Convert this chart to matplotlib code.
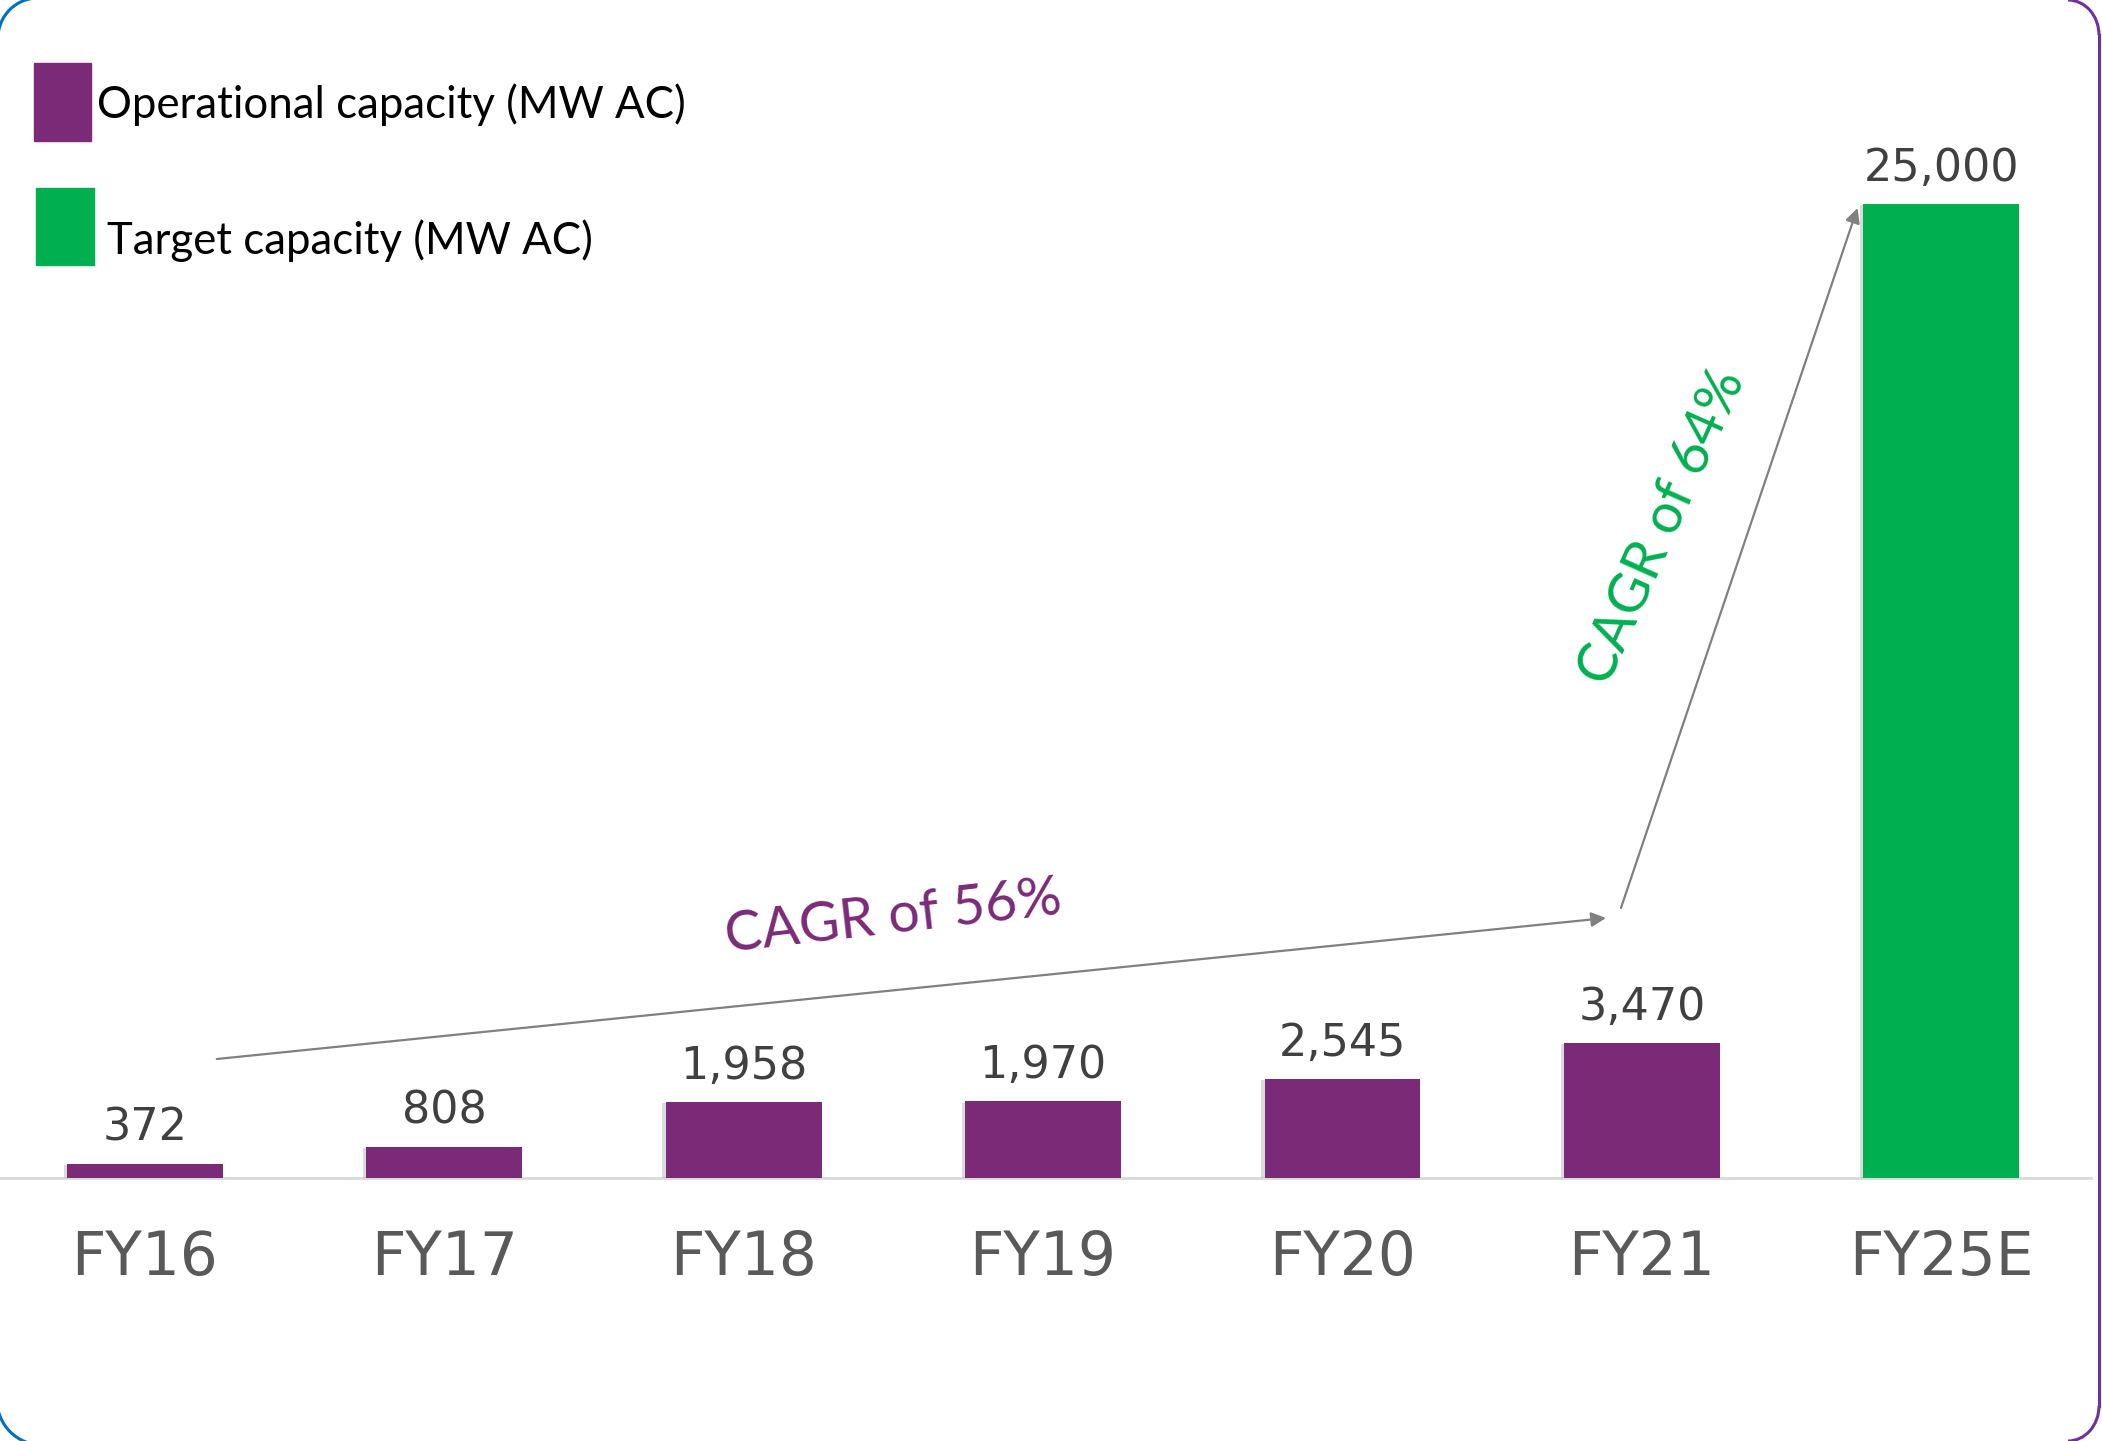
import matplotlib
matplotlib.use("Agg")
import matplotlib.pyplot as plt
import matplotlib.patheffects as pe
from matplotlib.patches import Rectangle, Arc

years = ["FY16", "FY17", "FY18", "FY19", "FY20", "FY21", "FY25E"]
capacity = [372, 808, 1958, 1970, 2545, 3470, 25000]
kind = ["op", "op", "op", "op", "op", "op", "target"]
legend_labels = ["Operational capacity (MW AC)", "Target capacity (MW AC)"]
cagr_labels = ["CAGR of 56%", "CAGR of 64%"]

purple = "#7b2a77"
green = "#00b050"
colors = [purple if k == "op" else green for k in kind]

W, H = 2102, 1441
fig = plt.figure(figsize=(W / 100, H / 100), dpi=100)

# decoration layer in pixel coords (border corners, legend)
deco = fig.add_axes([0, 0, 1, 1])
deco.set_xlim(0, W)
deco.set_ylim(H, 0)
deco.axis("off")

# right border (purple) with rounded corners
deco.plot([2099, 2099], [35, 1406], color="#7030a0", lw=2.2)
deco.add_patch(Arc((2068, 35), 62, 70, theta1=270, theta2=360, color="#7030a0", lw=2.2))
deco.add_patch(Arc((2068, 1406), 62, 70, theta1=0, theta2=90, color="#7030a0", lw=2.2))
# left blue corners (neighbouring box)
deco.add_patch(Arc((38, 38), 80, 80, theta1=180, theta2=270, color="#0070c0", lw=2.2))
deco.add_patch(Arc((42, 1400), 90, 90, theta1=90, theta2=180, color="#0070c0", lw=2.2))

# legend
deco.add_patch(Rectangle((34, 63), 57, 78, color=purple))
deco.add_patch(Rectangle((36, 188), 58, 77, color=green))
deco.text(97, 105, legend_labels[0], fontsize=31.5, family="Lato", va="center", ha="left", color="black")
deco.text(107, 241, legend_labels[1], fontsize=31.5, family="Lato", va="center", ha="left", color="black")

# main bar axes
ax = fig.add_axes([0, (H - 1178) / H, 2091 / W, 1178 / H])
ax.patch.set_alpha(0)
x = list(range(len(years)))
bars = ax.bar(x, capacity, width=0.52, color=colors, zorder=3)
for b in bars:
    b.set_path_effects([pe.SimplePatchShadow(offset=(-2.5, -1), shadow_rgbFace="0.6", alpha=0.35), pe.Normal()])

labels = [f"{v:,}" for v in capacity]
ax.bar_label(bars, labels=labels, padding=10, fontsize=32, color="#404040")

ax.set_xlim(-0.484, 6.5)
ax.set_ylim(0, 30236)
ax.set_xticks(x)
ax.set_xticklabels(years, fontsize=43, color="#595959")
ax.tick_params(axis="x", length=0, pad=37)
ax.set_yticks([])
for s in ["top", "right", "left"]:
    ax.spines[s].set_visible(False)
ax.spines["bottom"].set_color("#d9d9d9")
ax.spines["bottom"].set_linewidth(2)

# CAGR arrows
arrow = dict(arrowstyle="-|>", color="#808080", lw=1.6, mutation_scale=22, shrinkA=0, shrinkB=0)
ax.annotate("", xy=(4.88, 6673), xytext=(0.24, 3054), arrowprops=arrow, zorder=4)
ax.annotate("", xy=(5.72, 24897), xytext=(4.93, 6930), arrowprops=arrow, zorder=4)

ax.text(2.50, 6700, cagr_labels[0], fontsize=40, family="Lato", color=purple,
        rotation=6.5, ha="center", va="center", rotation_mode="anchor")
ax.text(5.07, 16710, cagr_labels[1], fontsize=40, family="Lato", color=green,
        rotation=66, ha="center", va="center", rotation_mode="anchor")

fig.savefig("out.png", dpi=100)
